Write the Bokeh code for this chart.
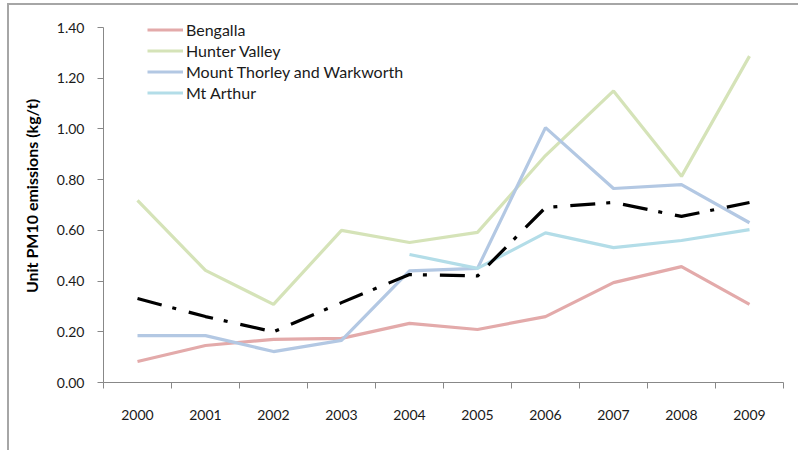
import math
from bokeh.plotting import figure
from bokeh.models import Range1d, FixedTicker, Legend, LegendItem, PrintfTickFormatter
from bokeh.embed import file_html
from bokeh.resources import INLINE

NaN = float("nan")

years = [2000, 2001, 2002, 2003, 2004, 2005, 2006, 2007, 2008, 2009]
bengalla = [0.083, 0.146, 0.170, 0.174, 0.233, 0.209, 0.260, 0.394, 0.457, 0.308]
hunter_valley = [0.718, 0.442, 0.308, 0.600, 0.552, 0.592, 0.895, 1.150, 0.813, 1.287]
mount_thorley = [0.185, 0.185, 0.122, 0.166, 0.440, 0.450, 1.005, 0.765, 0.780, 0.630]
mt_arthur = [NaN, NaN, NaN, NaN, 0.505, 0.450, 0.590, 0.532, 0.560, 0.603]
average = [0.331, 0.260, 0.200, 0.315, 0.426, 0.420, 0.690, 0.710, 0.655, 0.710]

series_names = ["Bengalla", "Hunter Valley", "Mount Thorley and Warkworth", "Mt Arthur"]
series_values = [bengalla, hunter_valley, mount_thorley, mt_arthur]
series_colors = ["#E3AAAA", "#D5E3B8", "#B3C8E3", "#B3DDE8"]
y_ticks = [0.0, 0.2, 0.4, 0.6, 0.8, 1.0, 1.2, 1.4]

FONT = "Lato"

p = figure(width=791, height=447, output_backend="svg", toolbar_location=None,
           x_range=Range1d(years[0] - 0.5, years[-1] + 0.5),
           y_range=Range1d(0, 1.471),
           min_border_left=94, min_border_right=17, min_border_top=4, min_border_bottom=70)
p.styles = {"border-left": "2px solid #A6A6A6", "border-top": "2px solid #A6A6A6",
            "margin-left": "7px", "margin-top": "3px"}
p.outline_line_color = None
p.grid.visible = False
p.background_fill_color = "white"
p.border_fill_color = "white"

items = []
for name, vals, col in zip(series_names, series_values, series_colors):
    r = p.line(years, vals, line_color=col, line_width=3.2)
    items.append(LegendItem(label=name, renderers=[r]))
p.line(years, average, line_color="black", line_width=3.2, line_dash="25 11 4 13")

# x axis
xa = p.xaxis[0]
xa.ticker = FixedTicker(ticks=years, minor_ticks=[y - 0.5 for y in years] + [years[-1] + 0.5])
xa.major_tick_line_color = None
xa.major_tick_out = 0
xa.major_tick_in = 0
xa.minor_tick_out = 6
xa.minor_tick_in = 0
xa.minor_tick_line_color = "#888888"
xa.axis_line_color = "#888888"
xa.major_label_standoff = 21
xa.major_label_text_font = FONT
xa.major_label_text_font_size = "14px"
xa.major_label_text_color = "#1a1a1a"

# y axis
ya = p.yaxis[0]
ya.ticker = FixedTicker(ticks=y_ticks, minor_ticks=[])
ya.bounds = (y_ticks[0], y_ticks[-1])
ya.formatter = PrintfTickFormatter(format="%.2f")
ya.major_tick_out = 6
ya.major_tick_in = 0
ya.major_tick_line_color = "#888888"
ya.axis_line_color = "#888888"
ya.major_label_standoff = 13
ya.major_label_text_font = FONT
ya.major_label_text_font_size = "14px"
ya.major_label_text_color = "#1a1a1a"
ya.axis_label = "Unit PM10 emissions (kg/t)"
ya.axis_label_text_font = FONT
ya.axis_label_text_font_style = "bold"
ya.axis_label_text_font_size = "16px"
ya.axis_label_text_color = "black"
ya.axis_label_standoff = 13

legend = Legend(items=items, location=(44, 279), orientation="vertical",
                glyph_width=36, glyph_height=21, label_height=21, label_standoff=3,
                spacing=0, padding=0, margin=0,
                label_text_font=FONT, label_text_font_size="16px", label_text_color="#1a1a1a",
                border_line_color=None, background_fill_alpha=0)
p.add_layout(legend, "center")

open("out.html", "w").write(file_html(p, INLINE))
